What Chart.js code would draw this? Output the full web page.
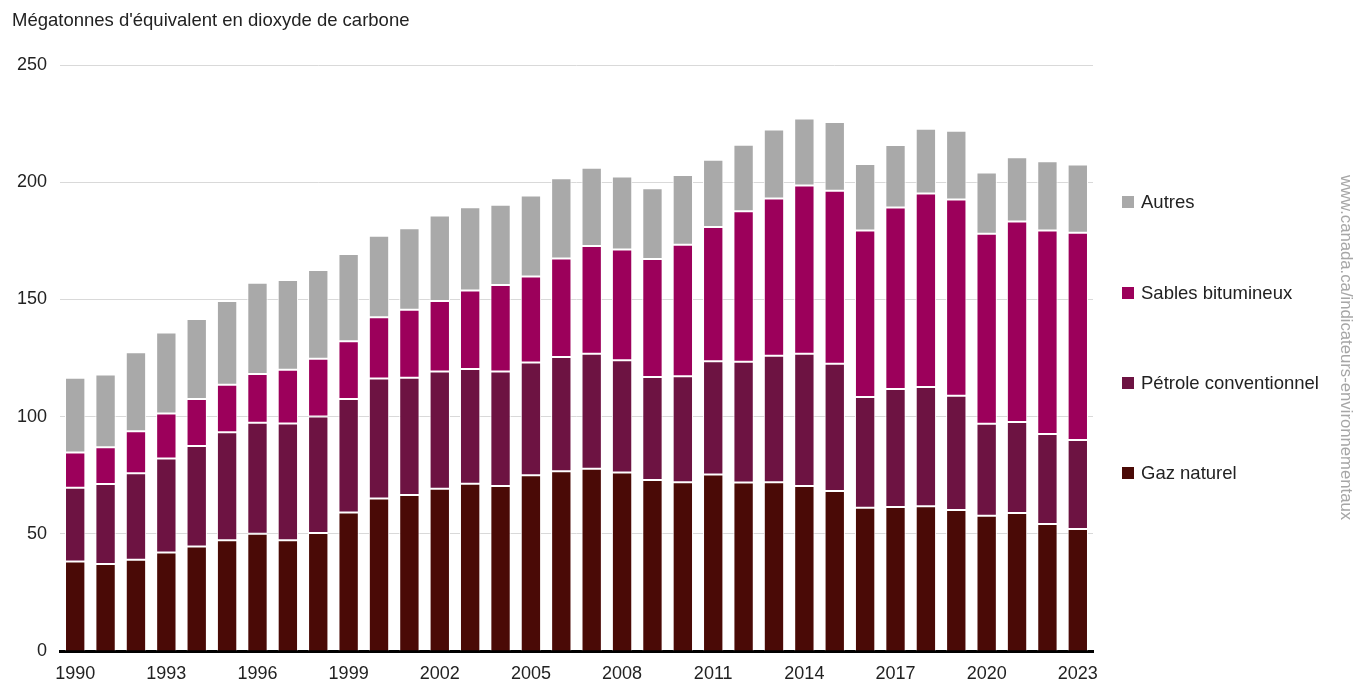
<!DOCTYPE html>
<html lang="fr">
<head>
<meta charset="utf-8">
<title>Émissions de GES - pétrole et gaz</title>
<script src="https://cdn.jsdelivr.net/npm/chart.js@4.4.1/dist/chart.umd.min.js"></script>
<style>
  html, body { margin: 0; padding: 0; background: #fff; }
  #wrap { position: relative; width: 1357px; height: 681px; font-family: "Liberation Sans", Arial, sans-serif; color: #222; }
  #chart { position: absolute; left: 0; top: 0; }
  #titre { position: absolute; left: 12px; top: 10px; font-size: 18.5px; line-height: 20px; }
  #legende { position: absolute; left: 1122px; top: 0; }
  .item { position: absolute; left: 0; white-space: nowrap; font-size: 18.5px; line-height: 20px; }
  .item span.box { position: absolute; left: 0; top: 4px; width: 12px; height: 12px; }
  .item span.txt { position: absolute; left: 19px; top: 0; }
  #source { position: absolute; left: 1336px; top: 175px; writing-mode: vertical-rl; font-size: 16.7px; color: #a6a6a6; white-space: nowrap; }
</style>
</head>
<body>
<div id="wrap">
  <canvas id="chart" width="1357" height="681"></canvas>
  <div id="titre">Mégatonnes d'équivalent en dioxyde de carbone</div>
  <div id="legende"></div>
  <div id="source">www.canada.ca/indicateurs-environnementaux</div>
</div>
<script>
  // ---------- Données (Mt éq. CO2) ----------
  const annees = [];
  for (let a = 1990; a <= 2023; a++) annees.push(String(a));

  const gazNaturel = [38.2, 37.1, 38.9, 42.0, 44.6, 47.2, 50.0, 47.2, 50.3, 59.1, 65.1, 66.5, 69.2, 71.4, 70.4, 75.0, 76.7,
    77.7, 76.1, 73.0, 72.0, 75.3, 71.9, 72.0, 70.4, 68.3, 61.1, 61.4, 61.8, 60.2, 57.7, 58.9, 54.2, 52.0];
  const petroleConv = [31.4, 34.1, 36.9, 40.1, 42.9, 46.1, 47.4, 49.9, 49.7, 48.4, 51.2, 50.1, 50.0, 48.9, 48.8, 48.1, 48.7,
    49.1, 47.9, 43.9, 45.2, 48.3, 51.5, 54.0, 56.4, 54.3, 47.3, 50.4, 50.8, 48.7, 39.2, 38.8, 38.4, 38.0];
  const sablesBitum = [15.1, 15.7, 17.9, 19.2, 20.0, 20.3, 20.8, 22.9, 24.7, 24.6, 26.1, 29.0, 30.1, 33.5, 36.9, 36.7, 42.0,
    46.0, 47.3, 50.3, 56.1, 57.3, 64.2, 67.0, 71.8, 73.8, 71.0, 77.4, 82.6, 83.7, 81.1, 85.5, 86.8, 88.4];
  const autres = [31.9, 31.1, 33.7, 34.6, 34.1, 35.7, 38.9, 38.3, 37.8, 37.3, 34.8, 34.8, 36.5, 35.5, 34.3, 34.5, 34.3,
    33.4, 31.1, 30.2, 29.8, 28.7, 28.4, 29.5, 28.6, 29.3, 28.4, 26.7, 27.6, 29.3, 26.1, 27.4, 29.5, 29.1];

  const yTicks = [0, 50, 100, 150, 200, 250];

  // ---------- Séries (du bas vers le haut) ----------
  const series = [
    { label: "Gaz naturel", data: gazNaturel, color: "#4a0a06" },
    { label: "Pétrole conventionnel", data: petroleConv, color: "#6d1342" },
    { label: "Sables bitumineux", data: sablesBitum, color: "#9c005b" },
    { label: "Autres", data: autres, color: "#a9a9a9" },
  ];

  const datasets = series.map((s, i) => ({
    label: s.label,
    data: s.data,
    backgroundColor: s.color,
    borderColor: "#ffffff",
    borderWidth: 1,
    borderSkipped: i === 0 ? "start" : false,
    barPercentage: 0.67,
    categoryPercentage: 1.0,
  }));

  const police = { family: '"Liberation Sans", Arial, sans-serif', size: 18 };

  new Chart(document.getElementById("chart"), {
    type: "bar",
    data: { labels: annees, datasets },
    options: {
      responsive: false,
      animation: false,
      events: [],
      layout: { padding: { left: 0, right: 264, top: 65, bottom: 0 } },
      plugins: { legend: { display: false }, tooltip: { enabled: false } },
      scales: {
        x: {
          stacked: true,
          grid: { display: false, drawTicks: false },
          border: { display: true, color: "#000", width: 3 },
          ticks: {
            color: "#222",
            font: police,
            padding: 12,
            autoSkip: false,
            maxRotation: 0,
            callback: function (v, i) { return i % 3 === 0 ? this.getLabelForValue(v) : ""; },
          },
          afterFit: (s) => { s.height = 30; },
        },
        y: {
          stacked: true,
          min: 0,
          max: 250,
          afterBuildTicks: (s) => { s.ticks = yTicks.map((v) => ({ value: v })); },
          grid: { color: "#d9d9d9", lineWidth: 1, drawTicks: false },
          border: { display: false },
          ticks: { color: "#222", font: police, padding: 13 },
          afterFit: (s) => { s.width = 60; },
        },
      },
    },
  });

  // ---------- Légende ----------
  const legende = document.getElementById("legende");
  const legendeY = [192, 283, 373, 463];
  series.slice().reverse().forEach((s, i) => {
    const el = document.createElement("div");
    el.className = "item";
    el.style.top = legendeY[i] + "px";
    el.innerHTML = '<span class="box" style="background:' + s.color + '"></span><span class="txt">' + s.label + "</span>";
    legende.appendChild(el);
  });
</script>
</body>
</html>
